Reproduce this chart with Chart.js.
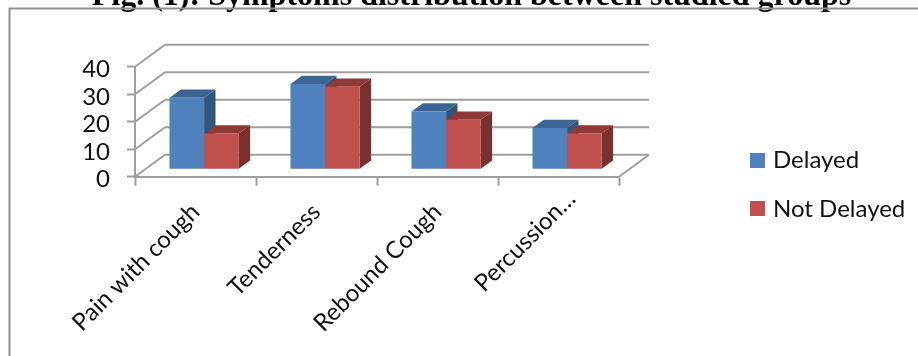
<!DOCTYPE html>
<html>
<head>
<meta charset="utf-8">
<style>
  html, body { margin: 0; padding: 0; background: #fff; }
  canvas { display: block; }
</style>
<script src="https://cdn.jsdelivr.net/npm/chart.js@4"></script>
</head>
<body>
<canvas id="grafico" width="918" height="356"></canvas>
<script>
// dados do gráfico
var categorias = ["Pain with cough", "Tenderness", "Rebound Cough", "Percussion…"];
var delayed = [26, 31, 21, 15];
var notDelayed = [13, 30, 18, 13];
var yTicks = [0, 10, 20, 30, 40];
var titulo = "Fig. (1): Symptoms distribution between studied groups";

var corLinha = "#9e9e9e";
var fonte = "Lato";

// deslocamento do fundo do gráfico em relação à frente
var fundoX = 30, fundoY = -22;
// onde ficam as barras dentro do piso, e a profundidade delas
var barraX = 8.6, barraY = -7.4;
var profX = 11.4, profY = -8.2;

var faces = [
	{ topo: "#3d6594", lado: "#30567f" },
	{ topo: "#8e3936", lado: "#7a302e" }
];

function linha(ctx, x1, y1, x2, y2) {
	ctx.beginPath();
	ctx.moveTo(x1, y1);
	ctx.lineTo(x2, y2);
	ctx.stroke();
}

function poligono(ctx, pts, cor) {
	ctx.fillStyle = cor;
	ctx.beginPath();
	ctx.moveTo(pts[0][0], pts[0][1]);
	for (var i = 1; i < pts.length; i++) ctx.lineTo(pts[i][0], pts[i][1]);
	ctx.closePath();
	ctx.fill();
}

var caixa3d = {
	id: "caixa3d",
	afterLayout: function(chart) {
		// o título fica cortado no topo e fora do centro do canvas
		var t = chart.titleBlock;
		t.left = 0;
		t.right = 943;
		t.top = -22;

		// ajuste fino dos rótulos dos eixos
		chart.scales.y.getLabelItems().forEach(function(item) {
			item.options.translation[1] += 3;
		});
		var ultimo = chart.scales.x.getLabelItems()[3];
		ultimo.options.translation[0] += 13;
		ultimo.options.translation[1] -= 13;
	},
	beforeDatasetsDraw: function(chart) {
		var ctx = chart.ctx;
		var y = chart.scales.y;
		var area = chart.chartArea;

		// moldura: só topo e esquerda
		ctx.save();
		ctx.strokeStyle = "#8f8f8f";
		ctx.lineWidth = 2;
		ctx.beginPath();
		ctx.moveTo(9.5, 356);
		ctx.lineTo(9.5, 8.5);
		ctx.lineTo(918, 8.5);
		ctx.stroke();

		// paredes e piso
		ctx.strokeStyle = corLinha;
		ctx.lineWidth = 2;
		yTicks.forEach(function(v) {
			var py = y.getPixelForValue(v);
			linha(ctx, area.left, py, area.left + fundoX, py + fundoY);
			linha(ctx, area.left + fundoX, py + fundoY, area.right + fundoX, py + fundoY);
		});
		var base = y.getPixelForValue(0);
		linha(ctx, area.right, base, area.right + fundoX, base + fundoY);
		ctx.restore();

		ctx.save();
		ctx.translate(barraX, barraY);

		// topo e lado de cada barra; a frente fica por conta do Chart.js
		categorias.forEach(function(c, i) {
			[0, 1].forEach(function(d) {
				var b = chart.getDatasetMeta(d).data[i];
				var esq = b.x - b.width / 2, dir = b.x + b.width / 2;
				poligono(ctx, [[esq, b.y], [esq + profX, b.y + profY], [dir + profX, b.y + profY], [dir, b.y]], faces[d].topo);
				poligono(ctx, [[dir, b.y], [dir + profX, b.y + profY], [dir + profX, b.base + profY], [dir, b.base]], faces[d].lado);
			});
		});
	},
	afterDatasetsDraw: function(chart) {
		chart.ctx.restore();
	},
	afterDraw: function(chart) {
		var ctx = chart.ctx;
		ctx.save();
		ctx.font = "24px " + fonte;
		ctx.textBaseline = "alphabetic";
		chart.data.datasets.forEach(function(ds, i) {
			ctx.fillStyle = ds.backgroundColor;
			ctx.fillRect(750, 153 + i * 48, 15, 15);
			ctx.fillStyle = "#111";
			ctx.fillText(ds.label, 773, 168 + i * 48.5);
		});
		ctx.restore();
	}
};

var ctx = document.getElementById("grafico");

var chartGraph = new Chart(ctx, {
	type: "bar",
	data: {
		labels: categorias,
		datasets: [{
			label: "Delayed",
			data: delayed,
			backgroundColor: "#4f81bd",
			clip: false
		}, {
			label: "Not Delayed",
			data: notDelayed,
			backgroundColor: "#c0504d",
			clip: false
		}]
	},
	options: {
		responsive: false,
		animation: false,
		devicePixelRatio: 1,
		layout: { padding: { left: 0, right: 299, top: 28.3, bottom: 0 } },
		datasets: { bar: { categoryPercentage: 0.572, barPercentage: 1 } },
		scales: {
			x: {
				afterFit: function(s) { s.height = 179.3; },
				grid: { drawOnChartArea: false, color: corLinha, tickLength: 9, tickWidth: 2 },
				border: { color: corLinha, width: 2 },
				ticks: {
					autoSkip: false,
					minRotation: 45,
					maxRotation: 45,
					padding: 12,
					color: "#111",
					font: { family: fonte, size: 24 }
				}
			},
			y: {
				min: 0,
				max: 40,
				afterFit: function(s) { s.width = 135; },
				afterBuildTicks: function(s) {
					s.ticks = yTicks.map(function(v) { return { value: v }; });
				},
				grid: { drawOnChartArea: false, color: corLinha, tickLength: 8, tickWidth: 2 },
				border: { color: corLinha, width: 2 },
				ticks: {
					autoSkip: false,
					padding: 17,
					color: "#111",
					font: { family: fonte, size: 24 }
				}
			}
		},
		plugins: {
			title: {
				display: true,
				text: titulo,
				color: "#000",
				font: { family: "Liberation Serif", size: 32, weight: "bold" },
				padding: 0
			},
			legend: { display: false },
			tooltip: { enabled: false }
		}
	},
	plugins: [caixa3d]
});
</script>
</body>
</html>
